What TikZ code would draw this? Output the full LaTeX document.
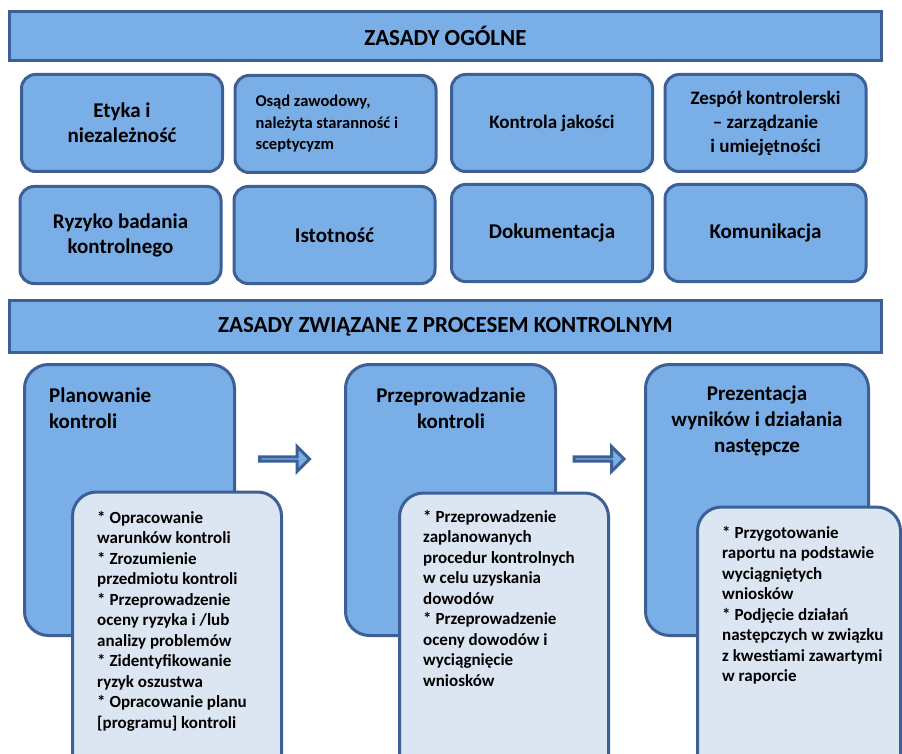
\documentclass[tikz,border=0pt]{standalone}
\usepackage{fontspec}
\setmainfont{Carlito}
\usetikzlibrary{shapes.arrows}
\definecolor{boxblue}{RGB}{122,174,230}
\definecolor{edgeblue}{RGB}{60,96,150}
\definecolor{paleblue}{RGB}{220,230,242}

\begin{document}
\begin{tikzpicture}[x=1pt,y=-1pt,
    banner/.style={draw=edgeblue, line width=3.5pt, fill=boxblue, minimum width=872pt, minimum height=49pt, font=\bfseries\fontsize{23}{26}\selectfont},
    tile/.style={draw=edgeblue, line width=3pt, fill=boxblue, rounded corners=14pt, minimum width=201pt, minimum height=97pt, align=center, font=\bfseries\fontsize{21}{25}\selectfont},
    stage/.style={draw=edgeblue, line width=3pt, fill=boxblue, rounded corners=24pt, minimum height=271pt},
    stagetitle/.style={inner sep=0pt, font=\bfseries\fontsize{21}{26}\selectfont},
    detail/.style={draw=edgeblue, line width=3pt, fill=paleblue, rounded corners=24pt, minimum width=209pt, minimum height=320pt, anchor=north},
    detailtext/.style={inner sep=0pt, anchor=north west, align=left, font=\bfseries\fontsize{17}{20.5}\selectfont},
    flowarrow/.style={single arrow, draw=edgeblue, line width=3pt, fill=boxblue, minimum height=50pt, minimum width=25pt, single arrow head extend=7pt, inner sep=0pt}
  ]
  \useasboundingbox (0,0) rectangle (902,754);
  \clip (0,0) rectangle (902,754);

  % general principles
  \node[banner] (ogolne) at (445.5,36) {ZASADY OGÓLNE};

  \node[tile] (etyka) at (122,123) {Etyka i\\niezależność};
  \node[tile, align=flush left, text width=160pt, font=\bfseries\fontsize{16.5}{21.5}\selectfont] (osad) at (335.5,124) {Osąd zawodowy,\\należyta staranność i\\sceptycyzm};
  \node[tile, font=\bfseries\fontsize{19}{25}\selectfont] (jakosc) at (552,123) {Kontrola jakości};
  \node[tile, font=\bfseries\fontsize{19}{24}\selectfont] (zespol) at (765.5,123) {Zespół kontrolerski\\– zarządzanie\\i umiejętności};

  \node[tile] (ryzyko) at (120.5,235) {Ryzyko badania\\kontrolnego};
  \node[tile] (istotnosc) at (334.5,235) {Istotność};
  \node[tile] (dokum) at (552,233) {Dokumentacja};
  \node[tile] (komun) at (765.5,233) {Komunikacja};

  % process principles
  \node[banner, minimum height=52pt] (proces) at (445.5,326.5) {ZASADY ZWIĄZANE Z PROCESEM KONTROLNYM};

  \node[stage, minimum width=210pt] (plan) at (129.5,500) {};
  \node[stage, minimum width=210pt] (exec) at (450.5,500) {};
  \node[stage, minimum width=223pt] (pres) at (757,500) {};

  \node[stagetitle, anchor=west, align=left] (plantitle) at (49,408) {Planowanie\\kontroli};
  \node[stagetitle, align=center] (exectitle) at (451,408) {Przeprowadzanie\\kontroli};
  \node[stagetitle, align=center] (prestitle) at (757,421) {Prezentacja\\wyników i działania\\następcze};

  \node[flowarrow] (arrow1) at (283.5,459) {};
  \node[flowarrow] (arrow2) at (598,459) {};

  \node[detail] (plandet) at (177,490.5) {};
  \node[detail] (execdet) at (504,491.5) {};
  \node[detail, minimum width=203pt] (presdet) at (799,505.5) {};

  \node[detailtext] (plantxt) at (97,511) {* Opracowanie\\warunków kontroli\\* Zrozumienie\\przedmiotu kontroli\\* Przeprowadzenie\\oceny ryzyka i /lub\\analizy problemów\\* Zidentyfikowanie\\ryzyk oszustwa\\* Opracowanie planu\\{[programu]} kontroli};
  \node[detailtext] (exectxt) at (423,510) {* Przeprowadzenie\\zaplanowanych\\procedur kontrolnych\\w celu uzyskania\\dowodów\\* Przeprowadzenie\\oceny dowodów i\\wyciągnięcie\\wniosków};
  \node[detailtext] (prestxt) at (722,526) {* Przygotowanie\\raportu na podstawie\\wyciągniętych\\wniosków\\* Podjęcie działań\\następczych w związku\\z kwestiami zawartymi\\w raporcie};
\end{tikzpicture}
\end{document}
